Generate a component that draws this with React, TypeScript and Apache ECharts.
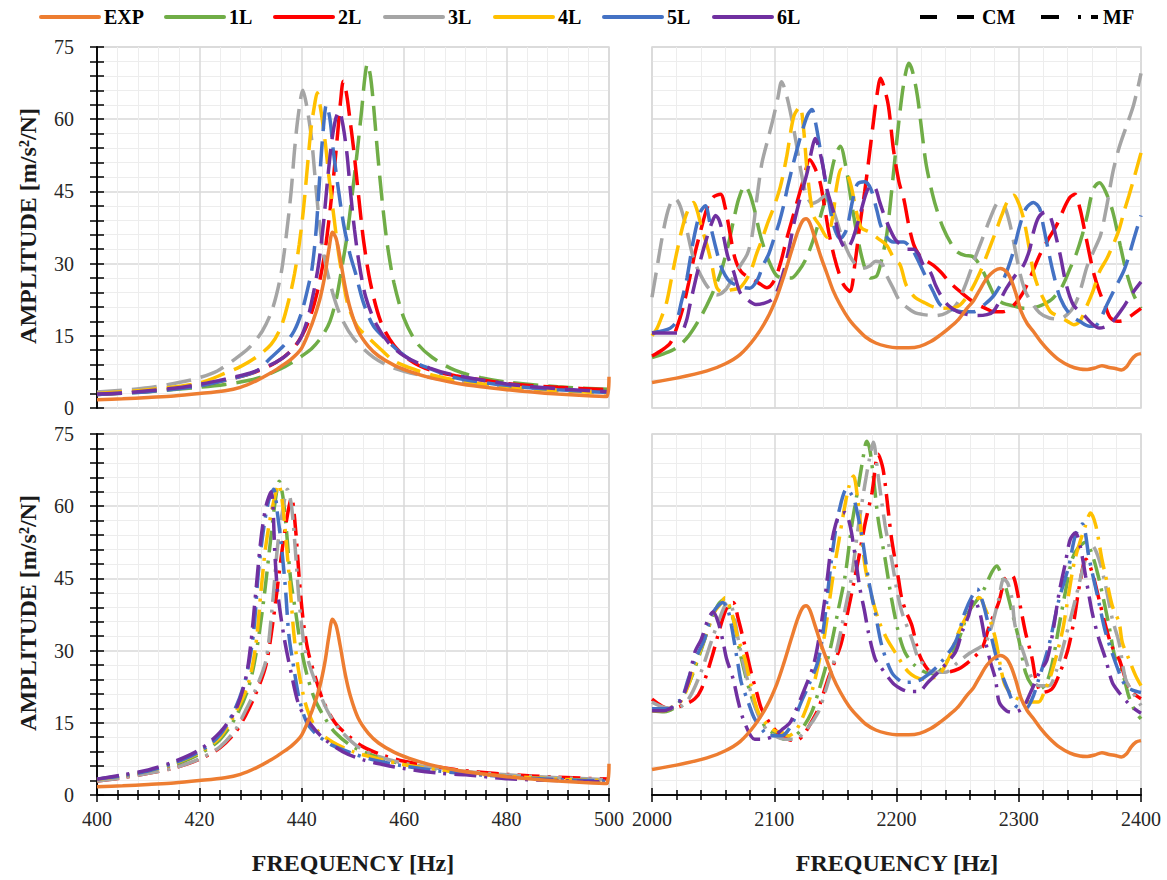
import React, { useEffect, useRef } from 'react';
import * as echarts from 'echarts';

const FONT = '"Liberation Serif", "DejaVu Serif", serif';
const NAMES = ['EXP', '1L', '2L', '3L', '4L', '5L', '6L'];
const COLORS = ['#ED7D31', '#70AD47', '#FF0000', '#A5A5A5', '#FFC000', '#4472C4', '#7030A0'];
const Y_TICKS = [0, 15, 30, 45, 60, 75];
const X_LOW_TICKS = [400, 420, 440, 460, 480, 500];
const X_HIGH_TICKS = [2000, 2100, 2200, 2300, 2400];

// Experimental curves (shared by CM and MF panels)
const EXP_LOW = [[400,1.7],[405,1.9],[410,2.2],[415,2.5],[420,3.0],[425,3.6],[428,4.3],[431,5.6],[434,7.3],[436,8.7],[438,10.2],[440,12.5],[442,17.5],[443.5,22.5],[444.5,27.5],[445.3,33],[446,36.5],[446.7,35.2],[447.5,31],[448.5,25],[449.5,20.5],[451,16],[453,12.8],[455,10.8],[458,8.9],[461,7.6],[465,6.3],[470,5.2],[475,4.4],[480,3.8],[485,3.3],[490,2.9],[495,2.6],[499.6,2.4],[500,6.5]];
const EXP_HIGH = [[2000,5.3],[2020,6.2],[2045,7.7],[2060,9.2],[2072,11.1],[2084,14.5],[2094,18.5],[2102,23],[2108,27.5],[2114,32.5],[2119,36.5],[2123,38.8],[2126,39.3],[2129,38.5],[2133,35.5],[2138,31.5],[2143,28],[2148,24.5],[2154,21.4],[2161,18.5],[2168,16.4],[2175,14.7],[2183,13.5],[2192,12.8],[2200,12.5],[2210,12.5],[2219,12.8],[2228,13.8],[2236,15.2],[2243,16.6],[2250,18.2],[2257,20.5],[2263,22.3],[2268,24.5],[2274,27],[2280,28.5],[2285,29],[2290,28.3],[2294,26.5],[2298,23.5],[2302,20],[2307,17.5],[2312,15.9],[2318,13.8],[2325,11.8],[2333,10],[2342,8.7],[2350,8.1],[2356,8],[2362,8.3],[2368,8.8],[2374,8.4],[2379,8.2],[2384,7.9],[2388,8.5],[2392,10],[2396,11],[2400,11.3]];

// CM, 400-500 Hz
const CM_L_1L = [[400,2.8],[410,3.4],[420,4.3],[425,4.9],[430,5.8],[433,6.8],[436,8.2],[438,9.4],[440,10.8],[442,12.4],[444,15],[445.5,18],[446.8,23],[447.8,29],[448.8,35.5],[449.8,44],[450.8,53],[451.7,62],[452.3,68.5],[452.8,71.5],[453.4,69],[454,63],[454.8,53],[455.7,43],[456.7,34],[458,26],[460,18.5],[462.5,13.5],[465.5,10.5],[470,7.8],[475,6.3],[480,5.4],[490,4.4],[500,3.9]];
const CM_L_2L = [[400,2.8],[410,3.5],[420,4.7],[426,6],[431,7.5],[435,9.5],[438,12],[440,15],[441.5,18.5],[443,24],[444.3,31],[445.3,39],[446.2,48],[447,57],[447.6,64],[448.1,67.9],[448.7,65.5],[449.4,60],[450.1,54],[451.1,44],[452.1,34.5],[453.4,26],[455.4,18],[458,13],[461.3,9.8],[465,7.9],[470,6.7],[480,5.1],[490,4.3],[500,3.8]];
const CM_L_3L = [[400,3.3],[410,4.2],[417,5.5],[420,6.3],[423.5,7.7],[427,10.2],[429.7,12.5],[432.3,16],[434.3,20.7],[435.9,27.6],[436.9,35.2],[437.9,44.8],[438.6,53.8],[439.3,60.7],[440.2,66],[441,62.5],[441.9,56],[442.5,49],[443.2,41],[444.2,32.4],[445.5,26],[447.5,19.3],[450.1,14.5],[454,10.5],[458,8.3],[464,6.6],[470,5.5],[480,4.4],[490,3.8],[500,3.3]];
const CM_L_4L = [[400,3],[410,3.8],[420,5.2],[425,7.2],[428,8.6],[431,10.5],[434,13.2],[436,17],[437.6,23],[438.6,28],[439.5,34],[440.3,41],[441,49],[441.8,58],[442.5,63],[443,65.5],[443.7,62],[444.6,55],[445.3,48],[446,42],[447.2,32],[448,27],[449,21.5],[450.8,17],[453.4,14.2],[455.4,12.2],[458,9.8],[462,8],[466,6.7],[470,5.8],[480,4.4],[490,3.6],[500,3.1]];
const CM_L_5L = [[400,2.8],[410,3.4],[420,4.6],[426,6],[431,7.6],[434,10.5],[436.5,13],[438.5,16],[440,20],[441.2,25],[442,29],[442.8,37],[443.5,48],[444.2,58],[444.8,63],[445.5,60],[446.2,53],[447.2,45],[448.2,38],[449.4,32],[450.5,28],[452,22],[454,17],[456.7,14],[459.3,11.5],[462,9.5],[465,8.2],[470,6.3],[480,4.7],[490,3.8],[500,3.2]];
const CM_L_6L = [[400,2.9],[405,3.1],[410,3.6],[415,4.1],[420,4.9],[425,6],[430,7.3],[434,9],[437,11],[439.5,14],[441,18],[442.3,24],[443.3,30],[444.2,38],[445,47],[445.8,55],[446.6,60],[447.3,61.7],[448,59],[448.8,53],[449.5,45],[450.3,37],[451.2,30],[452.5,23],[454.5,17.5],[457,13.5],[460,10.8],[465,8.3],[470,6.8],[480,5],[490,4],[500,3.4]];

// CM, 2000-2400 Hz
const CM_H_1L = [[2000,10.5],[2010,11.3],[2020,12.5],[2030,15],[2040,19],[2048,23],[2056,28],[2062,33.5],[2067,39.3],[2071,43.5],[2076,46.2],[2080,44.5],[2084,41],[2088,36.5],[2092,33],[2097,29.7],[2102,27.5],[2108,27],[2114,27],[2120,28.5],[2126,31],[2132,35],[2138,40],[2144,45.5],[2149,51.5],[2154,54.4],[2159,49.5],[2163,43],[2167,37],[2171,32],[2175,28.5],[2179,27],[2184,27.5],[2188,31],[2192,36],[2196,45],[2200,55],[2204,64],[2207,69],[2210,71.6],[2213,70],[2217,65],[2220,59],[2224,51],[2228,46],[2232,42],[2238,37.5],[2245,34],[2250,32.4],[2256,31.7],[2262,31.5],[2266,30.5],[2271,28.3],[2276,25.5],[2281,23],[2287,21.8],[2296,21.2],[2304,20.7],[2312,20.8],[2320,21.5],[2328,22.8],[2336,25.5],[2342,29],[2347,32],[2352,36],[2356,40],[2361,45.5],[2366,46.8],[2371,45],[2377,40.7],[2383,33.8],[2388,28.3],[2394,23.5],[2400,20.7]];
const CM_H_2L = [[2000,10.8],[2008,12],[2015,13.5],[2020,16.5],[2025,20.5],[2030,26],[2035,32],[2040,37],[2045,41.5],[2050,43.8],[2056,44.4],[2060,41.5],[2064,36],[2068,31],[2073,28.3],[2080,27],[2087,26],[2094,25],[2100,26.5],[2105,30],[2110,35],[2115,39.5],[2120,44],[2124,47.5],[2129,51.6],[2133,50],[2137.6,46.8],[2141,42],[2145,36],[2149,31.5],[2153,28],[2157,25.5],[2162,24.2],[2166,30],[2170,38],[2174,45],[2178,53],[2181,59.2],[2184,65],[2187,68.5],[2190,66.5],[2193.5,62.6],[2197.5,53.7],[2202,47],[2206,43.4],[2210,38],[2214,34],[2218,32],[2222,31],[2230,29.7],[2236,28.3],[2244,26],[2252,24.2],[2263,22],[2272,20.8],[2280,20],[2287,20],[2296,21.4],[2304,24.2],[2310,27.5],[2317,31.7],[2324,35],[2331,38],[2338,42],[2342,43.8],[2346,44.4],[2350,41.5],[2353,38],[2357,33],[2361,28.3],[2366,24.2],[2371,21],[2375,18.7],[2381,18],[2386,18.2],[2392,19.2],[2400,20.7]];
const CM_H_3L = [[2000,23],[2004,29],[2008,35],[2012,40],[2016,43],[2019,43.5],[2023,42],[2028,37.5],[2034,31],[2040,27.5],[2046,25],[2053,23.5],[2060,24.5],[2066,27],[2072,29.5],[2078,32],[2082,36],[2086,44],[2090,51],[2095,56],[2099,60],[2103,64.5],[2106,67.8],[2110,65],[2114,60.5],[2118,55],[2122,49],[2126,44.5],[2131,42.5],[2136,43],[2141,44],[2146,42.5],[2151,39],[2156,35],[2161,32],[2166,30],[2172,29],[2178,29.5],[2183,30.5],[2188,30],[2192,27.5],[2197,25],[2202,22.5],[2208,21],[2215,19.8],[2222,19.4],[2232,19.2],[2241,19.8],[2249,21.5],[2257,26],[2264,31],[2270,35],[2276,39],[2282,42.5],[2285,42.7],[2289,41.5],[2293,38],[2297,33],[2301,28],[2305,24.5],[2309,22.5],[2317,19.8],[2325,18.7],[2333,18.5],[2340,19.5],[2346,21.5],[2351,25],[2356,29.5],[2362,33],[2367,36],[2372,42],[2377,49],[2382,54],[2388,58.5],[2394,63],[2400,69.5]];
const CM_H_4L = [[2000,15],[2004,16.5],[2008,19],[2012,22],[2016,27],[2020,32],[2026,38.6],[2031,42],[2034,42.7],[2037,41],[2040,38],[2045,33.8],[2049,29.7],[2053,25],[2058,24],[2064,24.5],[2072,25],[2080,28],[2086,32.4],[2090,35],[2094,38],[2100,42],[2105,46],[2110,52],[2116,60.6],[2121,62.6],[2124,58],[2127,49],[2132,40],[2137,38],[2143,35.5],[2148,40],[2151,46],[2155,49.6],[2159,49],[2163,46],[2167,41],[2171,37.5],[2178,36.5],[2185,35.2],[2192,33.8],[2198,31],[2203,29.7],[2208,25.5],[2215,23],[2222,22],[2230,21],[2236,20.7],[2246,20.8],[2252,21.4],[2260,24],[2268,28],[2275,32.5],[2281,36.5],[2286,40],[2291,43],[2296,44.2],[2300,42.5],[2304,39.3],[2308,34],[2312,28.3],[2316,25],[2320,22.8],[2326,20],[2333,19],[2340,18],[2345,17.3],[2350,18],[2356,21.4],[2361,24.5],[2366,28.3],[2372,31],[2377,33.8],[2382,37],[2386,40.7],[2390,44],[2394,47.5],[2400,53]];
const CM_H_5L = [[2000,15.6],[2008,16],[2015,16.6],[2020,18],[2024,22],[2028.6,27],[2034,35],[2039.5,40.7],[2043.6,42],[2047.7,38],[2052,33.5],[2056,29.7],[2060,27.5],[2064,26.2],[2072,25.2],[2080,24.9],[2086,26.5],[2091,29.7],[2095.5,32],[2099.5,35],[2104,38.5],[2107.6,42],[2111,46],[2115.8,51],[2120,55],[2124,58.5],[2127.5,61],[2130.8,62],[2134,59],[2137.6,53.7],[2143,45.5],[2148.5,38],[2154,35.2],[2159,37],[2164,43],[2168,46.5],[2174,47],[2179,45.5],[2184,41],[2187,38],[2192,35.5],[2197.5,34.5],[2205.7,34.5],[2211,33.5],[2215,32],[2222,28.3],[2230,24.2],[2236,21.4],[2245,20.5],[2255,20],[2263,20],[2272,21.5],[2280,23.5],[2288,27],[2295,32],[2301,38],[2306,41.5],[2312,42.7],[2317,41.5],[2320,38],[2324,33],[2328,28.3],[2334,22.8],[2342,19.4],[2350,18],[2358,17],[2364,17.3],[2372,21.4],[2379,25],[2385.6,28.3],[2390,31.5],[2394,35],[2400,40]];
const CM_H_6L = [[2000,15.6],[2010,15.6],[2023,15.6],[2028,18],[2031,21.4],[2036,27],[2041,32],[2045,35.5],[2049,38.5],[2052,40],[2055,39],[2058.6,35.5],[2062,31.5],[2066.8,28.3],[2072,24],[2078,22.5],[2085,21.5],[2092,21.8],[2098,22.5],[2102,24],[2107.6,28.3],[2112,33],[2115.8,38],[2121,43.4],[2127,49],[2131,54],[2133.5,56],[2136,54.5],[2140,50],[2143,45.5],[2148.5,40.7],[2154,35],[2159,33],[2164,35],[2170,40],[2175,44.5],[2179,46.3],[2183,45.5],[2186,43],[2189,40.7],[2194,37.5],[2199,35],[2204,33.8],[2209,33],[2214,33],[2218,32],[2222,29.7],[2227.5,28.3],[2232,25.5],[2236,23.5],[2242,21.4],[2250,20],[2258,19.4],[2266,19.2],[2274,19.4],[2279,20],[2285,22.5],[2290,24.9],[2297,27.5],[2304,29.7],[2309,33],[2312,36.5],[2316,39.5],[2321.5,40.7],[2325,40.2],[2328,38],[2331,35],[2334,31.7],[2339,25.5],[2344.7,21.4],[2353,19.4],[2360,17.5],[2366,16.6],[2372,17],[2377,18],[2385,20.7],[2392,23.5],[2400,26.2]];

// MF, 400-500 Hz
const MF_L_1L = [[400,3],[405,3.8],[410,4.8],[415,6.2],[420,8.5],[424,11.5],[427,16],[429.5,22],[431,29],[432.5,40],[433.8,52],[434.8,61],[435.6,65.2],[436.3,62],[437,55],[437.8,45],[438.8,38],[439.8,31],[441,25],[442.5,20],[444.5,16],[446.5,13],[450,10],[455,7.8],[460,6.4],[470,4.9],[480,4],[490,3.4],[500,3]];
const MF_L_2L = [[400,2.9],[405,3.6],[410,4.5],[415,5.6],[420,7.4],[424,9.8],[427,13],[429,16.5],[431,21],[433,27],[434.5,37],[435.8,48],[437,57],[438,61.7],[438.8,55],[439.5,45],[440.3,36],[441.2,30],[442.5,25],[444.2,19.5],[446.5,15],[449,12.4],[452,10],[456,8.2],[460,7],[470,5.3],[480,4.3],[490,3.7],[500,3.3]];
const MF_L_3L = [[400,2.9],[405,3.6],[410,4.5],[415,5.6],[420,7.5],[424,10],[427,13.5],[429,17.5],[431,22],[433,28],[434.3,40],[435.3,52],[436.4,60],[437.2,63.5],[438,60],[438.8,50],[439.5,40],[440.5,31],[441.5,27],[443,22.5],[445,17.5],[447.5,13.5],[451,10],[455,8],[460,6.6],[470,5.1],[480,4.2],[490,3.6],[500,3.2]];
const MF_L_4L = [[400,3.2],[405,4],[410,5],[415,6.5],[420,8.8],[424,12],[427,17],[429.5,23],[431,31],[432,42],[433,52],[434.3,60],[435.5,64.5],[436.3,60],[437,52],[437.8,42],[438.5,33],[439.5,25],[441,18],[443,13.5],[446,11],[450,9],[455,7.5],[460,6.3],[470,4.8],[480,3.9],[490,3.3],[500,3]];
const MF_L_5L = [[400,3.3],[405,4],[410,5],[415,6.6],[420,9],[424,12.5],[427,18],[429,24],[430.5,33],[431.5,46],[432.5,55],[433.5,61],[434.5,63.5],[435.3,58],[436,52],[436.8,43],[437.5,33],[438.5,26],[439.5,20],[441,15],[443,12.5],[446,10.3],[450,8.6],[454,7.3],[460,6],[470,4.6],[480,3.8],[490,3.2],[500,2.9]];
const MF_L_6L = [[400,3.3],[405,4.2],[410,5.2],[415,6.9],[420,9.4],[424,13],[427,17.5],[429,24],[430,31],[431,42],[432,53],[433,60],[434,63],[434.8,49],[435.3,42],[436.5,33],[438,25],[439.5,18.5],[441.5,15],[444,12],[448,9],[452,7.3],[456,6.3],[460,5.5],[467,4.5],[472,4.2],[480,3.4],[490,3],[500,2.7]];

// MF, 2000-2400 Hz
const MF_H_1L = [[2000,17.5],[2010,17.3],[2020,18.5],[2030,23],[2040,30],[2048,36],[2054,39.5],[2059.6,40.7],[2064,38.5],[2068,35],[2072,29.6],[2078.7,22.7],[2084,18.6],[2092,14.4],[2100,12.7],[2108.7,11.6],[2114,11.8],[2122,13.5],[2130.6,17.2],[2136,21.3],[2142,26.5],[2147,31.7],[2152,38],[2158,45.6],[2163.4,56],[2168.9,64.3],[2172,69],[2175.7,73.5],[2178,72],[2181,66.3],[2185,57.3],[2190.7,49],[2196,40.7],[2201.6,33.8],[2207,29.6],[2215,26.9],[2223.5,25.5],[2231,25.2],[2238,26.5],[2245,29.5],[2251,32.4],[2259,38],[2270,42],[2278,46.3],[2282,47.6],[2286,45.6],[2289,43.5],[2294.5,38],[2300,32.4],[2305.5,25.5],[2311,22.7],[2316,22],[2322,23],[2327,26.9],[2333,35.2],[2338,42],[2343.7,49],[2349,51.5],[2354.6,52.5],[2360,50],[2365.6,44.9],[2373.8,35.2],[2379,28.3],[2384.7,25.5],[2390,20.5],[2395,17.5],[2400,15.8]];
const MF_H_2L = [[2000,19.9],[2008,18.5],[2015,17.9],[2025,18.6],[2035,20],[2040.4,22],[2048.6,28.3],[2057,35.9],[2062,39.3],[2066.4,40],[2070.5,36.6],[2076,31],[2081,25.5],[2086,21],[2089.6,17.9],[2097.8,14.4],[2105,12.5],[2112,11.5],[2118,11.3],[2124,12.5],[2130,15],[2136,17.9],[2144,24.1],[2150,28],[2155,31.7],[2160.6,38.6],[2165,44],[2168.9,49],[2174,56],[2180,62.9],[2185,70.8],[2189,67.7],[2193.4,58.7],[2196,53.2],[2201.6,44.9],[2204.4,40.7],[2208,38],[2212.6,35.2],[2218,29.6],[2223,27],[2229,25.5],[2240,25.5],[2250.8,26.2],[2262,28.3],[2270,30.5],[2276,35.2],[2283.6,40],[2289,44.9],[2294.5,45.6],[2300,40.7],[2305.5,33.8],[2311,28.3],[2314,24.1],[2319,21.3],[2327,22],[2333,25],[2340,30],[2345,36],[2350,44],[2355,49],[2360,46.3],[2365.6,40.7],[2371,35.2],[2376,31],[2382,28.3],[2387.4,24.1],[2393,21.3],[2400,20]];
const MF_H_3L = [[2000,19.3],[2010,18.2],[2020,18],[2030,20],[2040,25.5],[2048,31.5],[2055,36.5],[2062,40],[2066,38.5],[2070.5,32.4],[2076,26],[2081,21.3],[2087,16.5],[2094,13.5],[2100,12.3],[2108.7,11.6],[2117,11.6],[2126,13.5],[2136,17.2],[2141.5,21.3],[2147,26],[2152.5,31.7],[2158,38.6],[2163,45],[2166,50.4],[2168.9,56],[2174,64.3],[2178,70],[2181,73.3],[2185,66.3],[2190.7,56],[2196,49],[2200,43],[2204.4,38],[2212.6,32.4],[2218,28.3],[2223.5,26.9],[2229,25.5],[2240,25.5],[2250,27.5],[2260,29.5],[2267,30.5],[2272.7,31.5],[2278,35.2],[2283.6,40.7],[2287.7,44.9],[2291,44],[2294.5,40.7],[2297,35.2],[2305.5,28.3],[2311,24.1],[2316.4,22.7],[2324.6,22.7],[2331,26],[2338,32.4],[2346.4,40.7],[2354.6,49],[2360,51.8],[2365.6,49],[2371,43.5],[2376.5,36.6],[2382,31.7],[2387.4,24.1],[2394,21],[2400,18.6]];
const MF_H_4L = [[2000,17.5],[2010,17.5],[2018,18.5],[2024,19.6],[2030,23],[2035,26.9],[2043,32.4],[2051,38],[2057,40],[2059.6,41],[2065,38],[2070.5,32.4],[2076,28.3],[2081,22.7],[2087,17.2],[2095,14.4],[2101,13.3],[2106,13],[2111.5,12.3],[2118,13.5],[2125,17.2],[2130.6,21.3],[2136,27],[2141,33],[2145,40],[2149,47],[2153,53],[2157,59],[2161,64],[2164.8,66.3],[2168,62],[2171,55],[2174,48],[2178,43],[2185,36.6],[2192,32.5],[2199,29.6],[2210,25.5],[2220.8,24.1],[2234,24.8],[2242.6,28.3],[2250.8,33.8],[2259,38],[2264,40.5],[2268,41],[2272,39],[2277,35.9],[2281,32.4],[2286,25.5],[2289,22.7],[2296,20.5],[2308,19.3],[2316,19.3],[2321,21.5],[2327,25.5],[2335.5,33.8],[2341,42],[2346,49],[2354.6,56],[2358.7,58.6],[2363,56],[2368,49],[2371,45.6],[2376.5,39.3],[2382,35.9],[2384.7,31.7],[2390,28.3],[2395.6,24.8],[2400,22.7]];
const MF_H_5L = [[2000,17.9],[2010,17.9],[2015,17.9],[2018.6,19.3],[2024,19.8],[2029.5,24],[2036,28.5],[2043,32.4],[2048.6,37.3],[2054,39.3],[2058,40],[2062,38.5],[2065,35.2],[2070.5,26.9],[2073,23.4],[2078.7,19.3],[2084,15.8],[2092,13],[2095,12.3],[2106,12.3],[2114,14.5],[2122,19.3],[2128,22.7],[2136,28],[2141,36],[2145,45],[2149,53],[2153,59],[2159.3,63.6],[2163,62.5],[2166,60.8],[2171.6,53.9],[2177,44.9],[2182.5,38],[2188,31],[2196,25.5],[2203,23.7],[2207,23.4],[2214,23.5],[2220.8,24.1],[2234,26.9],[2248,31.7],[2256,38],[2262,41.4],[2266,42.8],[2270,40.5],[2272.7,38],[2278,32.4],[2283.6,26.9],[2292,21.3],[2297,18.6],[2305.5,17.9],[2311,20],[2316.4,24.1],[2324.6,31],[2333,40.7],[2341,47.6],[2346.4,54],[2352,56.3],[2357.7,49],[2365.6,40],[2371,33.8],[2382,25.5],[2387.4,22.7],[2393,21.8],[2400,21.3]];
const MF_H_6L = [[2000,17.5],[2010,17.5],[2015,18],[2022,19],[2029.5,23.4],[2035,29.6],[2040.4,32.4],[2046,36.6],[2050,38],[2054,36],[2058,32],[2061,28.3],[2066.4,24.1],[2070,20],[2074.6,15.8],[2084,11.6],[2091,11.6],[2100,12.3],[2106,13.5],[2112.8,15],[2117,17.2],[2124,21.5],[2132,26.9],[2136,31.7],[2141,40],[2144,46.3],[2147,52.5],[2150,56],[2153,58],[2158,58.7],[2162,56],[2166,50],[2170,43],[2174,38],[2177,33.8],[2182.5,28.3],[2187,26.6],[2193,24.5],[2198,23],[2204,22],[2210,21.5],[2218,21.5],[2226,23.5],[2234,25.5],[2248,29.6],[2253.5,33.8],[2259,37.3],[2263,40.7],[2266,39.5],[2269,37],[2272.7,32],[2277,27.5],[2281,24],[2284,19.3],[2290,17.5],[2294.5,17.2],[2302.7,17.9],[2310,21.5],[2317,25.5],[2323,28],[2328,34],[2333,42],[2338,48],[2342,53],[2346.4,54.5],[2350,52],[2354.6,45.6],[2360,38],[2365.6,32.4],[2371,28.3],[2376.5,23.4],[2382,21.3],[2388,19.5],[2394,18],[2400,17]];

const CM_L = [CM_L_1L, CM_L_2L, CM_L_3L, CM_L_4L, CM_L_5L, CM_L_6L];
const CM_H = [CM_H_1L, CM_H_2L, CM_H_3L, CM_H_4L, CM_H_5L, CM_H_6L];
const MF_L = [MF_L_1L, MF_L_2L, MF_L_3L, MF_L_4L, MF_L_5L, MF_L_6L];
const MF_H = [MF_H_1L, MF_H_2L, MF_H_3L, MF_H_4L, MF_H_5L, MF_H_6L];

const CM_DASH = [25, 10];
const MF_DASH = [22, 8, 3, 8];

export default function App() {
  const ref = useRef<HTMLDivElement>(null);
  useEffect(() => {
    if (!ref.current) return;
    const chart = echarts.init(ref.current, undefined, { renderer: 'svg' });

    const grids = [
      { left: 97, top: 47, width: 512, height: 361 },
      { left: 652, top: 47, width: 489, height: 361 },
      { left: 97, top: 434, width: 512, height: 361 },
      { left: 652, top: 434, width: 489, height: 361 },
    ].map((g) => ({ ...g, show: true, borderColor: '#D9D9D9', borderWidth: 1.5, backgroundColor: 'transparent' }));

    const black = { color: '#000', width: 1.5 };
    const labelStyle = { fontSize: 20, color: '#262626', fontFamily: FONT, formatter: (v: number) => String(v) };

    const xLow = X_LOW_TICKS, xHigh = X_HIGH_TICKS;
    const xPrimary = (gi: number, ticks: number[], bottom: boolean) => ({
      type: 'value', gridIndex: gi, position: 'bottom',
      min: ticks[0], max: ticks[ticks.length - 1], interval: ticks[1] - ticks[0],
      axisLine: { show: bottom, onZero: false, lineStyle: black },
      axisTick: { show: bottom, length: 7, lineStyle: black },
      minorTick: { show: bottom, splitNumber: 5, length: 5, lineStyle: black },
      axisLabel: { show: bottom, margin: 14, ...labelStyle },
      splitLine: { show: true, lineStyle: { color: '#D9D9D9', width: 1.5 } },
      minorSplitLine: { show: true, lineStyle: { color: '#EDEDED', width: 1 } },
    });
    const xInner = (gi: number, ticks: number[]) => ({
      type: 'value', gridIndex: gi, position: 'bottom',
      min: ticks[0], max: ticks[ticks.length - 1], interval: ticks[1] - ticks[0],
      axisLine: { show: true, onZero: false, lineStyle: black },
      axisTick: { show: true, inside: true, length: 7, lineStyle: black },
      minorTick: { show: true, splitNumber: 5, length: 5, lineStyle: black },
      axisLabel: { show: false },
      splitLine: { show: false },
      minorSplitLine: { show: false },
    });
    const yPrimary = (gi: number, left: boolean) => ({
      type: 'value', gridIndex: gi, position: 'left',
      min: Y_TICKS[0], max: Y_TICKS[Y_TICKS.length - 1], interval: Y_TICKS[1] - Y_TICKS[0],
      axisLine: { show: left, onZero: false, lineStyle: black },
      axisTick: { show: left, length: 7, lineStyle: black },
      minorTick: { show: left, splitNumber: 5, length: 7, lineStyle: black },
      axisLabel: { show: left, margin: 23, ...labelStyle },
      splitLine: { show: true, lineStyle: { color: '#D9D9D9', width: 1.5 } },
      minorSplitLine: { show: true, lineStyle: { color: '#EDEDED', width: 1 } },
    });
    const yInner = (gi: number) => ({
      type: 'value', gridIndex: gi, position: 'left',
      min: Y_TICKS[0], max: Y_TICKS[Y_TICKS.length - 1], interval: Y_TICKS[1] - Y_TICKS[0],
      axisLine: { show: true, onZero: false, lineStyle: black },
      axisTick: { show: true, inside: true, length: 7, lineStyle: black },
      minorTick: { show: true, splitNumber: 5, length: 7, lineStyle: black },
      axisLabel: { show: false },
      splitLine: { show: false },
      minorSplitLine: { show: false },
    });

    const xAxis = [
      xPrimary(0, xLow, false), xPrimary(1, xHigh, false),
      xPrimary(2, xLow, true), xPrimary(3, xHigh, true),
      xInner(2, xLow), xInner(3, xHigh),
    ];
    const yAxis = [
      yPrimary(0, true), yPrimary(1, false), yPrimary(2, true), yPrimary(3, false),
      yInner(0), yInner(2),
    ];

    const mk = (name: string, data: number[][], color: string, idx: number, dash: any, z: number) => ({
      type: 'line', name, data, xAxisIndex: idx, yAxisIndex: idx,
      symbol: 'none', showSymbol: false, smooth: 0.3, silent: true, z,
      lineStyle: { color, width: 3.5, type: dash, cap: 'butt' },
      itemStyle: { color },
    });

    const panels = [
      { idx: 0, exp: EXP_LOW, sets: CM_L, dash: CM_DASH },
      { idx: 1, exp: EXP_HIGH, sets: CM_H, dash: CM_DASH },
      { idx: 2, exp: EXP_LOW, sets: MF_L, dash: MF_DASH },
      { idx: 3, exp: EXP_HIGH, sets: MF_H, dash: MF_DASH },
    ];
    const series: any[] = [];
    panels.forEach((p) => {
      series.push(mk(NAMES[0], p.exp, COLORS[0], p.idx, 'solid', 4));
      p.sets.forEach((d, i) => series.push(mk(NAMES[i + 1], d, COLORS[i + 1], p.idx, p.dash, 3)));
    });
    series.push({ type: 'line', name: 'CM', data: [], xAxisIndex: 0, yAxisIndex: 0, symbol: 'none',
      lineStyle: { color: '#000', width: 4, type: [17, 20] }, itemStyle: { color: '#000' } });
    series.push({ type: 'line', name: 'MF', data: [], xAxisIndex: 0, yAxisIndex: 0, symbol: 'none',
      lineStyle: { color: '#000', width: 4, type: [18, 19, 3, 10] }, itemStyle: { color: '#000' } });

    const legendText = { fontSize: 20, fontWeight: 'bold', fontFamily: FONT, color: '#000' };
    const noSymbol = { color: 'transparent', opacity: 0, borderWidth: 0 };
    const legendLefts = [39, 164, 273, 383, 493, 602, 712];
    const legends: any[] = NAMES.map((n, i) => ({
      data: [n], left: legendLefts[i], top: 7, itemWidth: 58, itemHeight: 20, padding: 0,
      selectedMode: false, textStyle: legendText, itemStyle: noSymbol,
      lineStyle: { type: 'solid', width: 4, cap: 'round' },
    }));
    legends.push({ data: ['CM'], left: 918, top: 7, itemWidth: 57, itemHeight: 20, padding: 0,
      selectedMode: false, textStyle: legendText, itemStyle: noSymbol, lineStyle: { width: 4 } });
    legends.push({ data: ['MF'], left: 1039, top: 7, itemWidth: 57, itemHeight: 20, padding: 0,
      selectedMode: false, textStyle: legendText, itemStyle: noSymbol, lineStyle: { width: 4 } });

    const titleStyle = (text: string, size: number) => ({
      text, fontSize: size, fontWeight: 'bold', fontFamily: FONT, fill: '#1a1a1a',
      textAlign: 'center', textVerticalAlign: 'middle', align: 'center', verticalAlign: 'middle',
    });

    chart.setOption({
      animation: false,
      backgroundColor: '#fff',
      grid: grids,
      xAxis,
      yAxis,
      legend: legends,
      series,
      graphic: [
        { type: 'text', x: 28, y: 226, rotation: Math.PI / 2, style: titleStyle('AMPLITUDE [m/s²/N]', 24) },
        { type: 'text', x: 28, y: 613, rotation: Math.PI / 2, style: titleStyle('AMPLITUDE [m/s²/N]', 24) },
        { type: 'text', x: 353, y: 863, style: titleStyle('FREQUENCY [Hz]', 24) },
        { type: 'text', x: 897, y: 863, style: titleStyle('FREQUENCY [Hz]', 24) },
      ],
    });
    return () => chart.dispose();
  }, []);

  return <div ref={ref} style={{ position: 'absolute', left: 0, top: 0, width: 1167, height: 880 }} />;
}
